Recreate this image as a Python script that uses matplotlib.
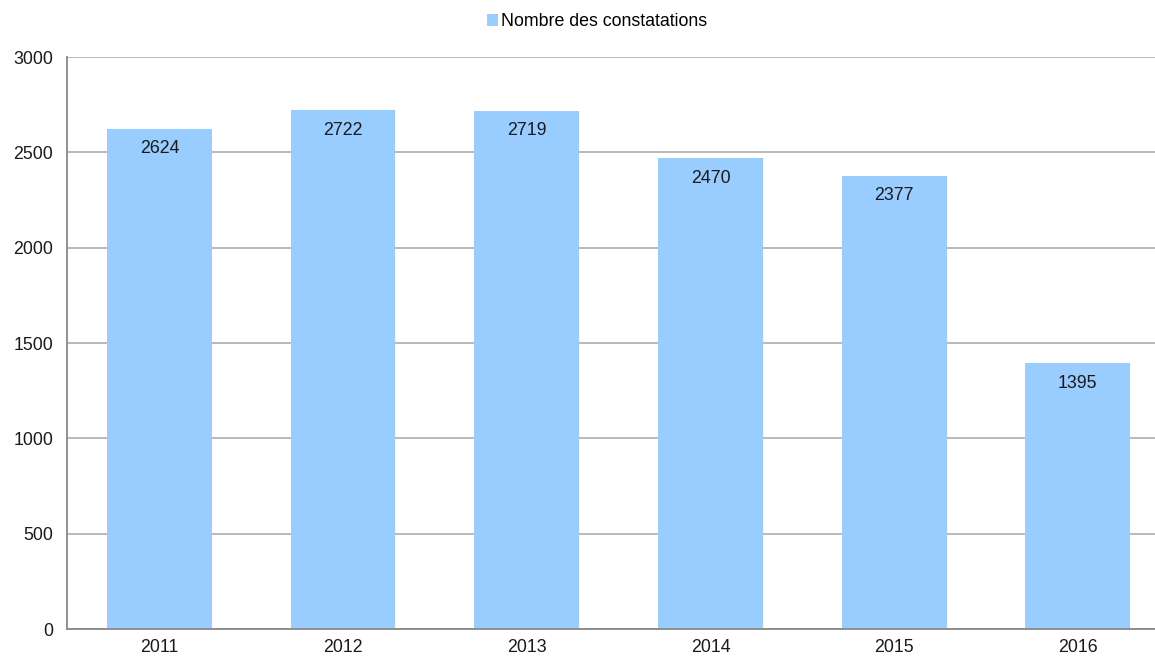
import matplotlib.pyplot as plt
from matplotlib.patches import Patch

years = ["2011", "2012", "2013", "2014", "2015", "2016"]
counts = [2624, 2722, 2719, 2470, 2377, 1395]
yticks = [0, 500, 1000, 1500, 2000, 2500, 3000]

plt.rcParams["font.family"] = ["Liberation Sans", "DejaVu Sans"]

fig = plt.figure(figsize=(11.55, 6.56), dpi=100)
ax = fig.add_axes([67 / 1155, 27 / 656, 1 - 67 / 1155, (629 - 57) / 656])

bar_color = "#99ccff"
x = range(len(years))
bars = ax.bar(x, counts, width=0.57, color=bar_color, zorder=2)

for rect, v in zip(bars, counts):
    ax.annotate(str(v), (rect.get_x() + rect.get_width() / 2, v),
                xytext=(0, -14.5), textcoords="offset points",
                ha="center", va="center", fontsize=12.8, color="#1a1a1a")

ax.set_xlim(-0.503, 5.42)
ax.set_ylim(0, 3000)
ax.set_yticks(yticks)
ax.set_xticks(list(x))
ax.set_xticklabels(years)
ax.tick_params(axis="both", length=0, labelsize=12.8, colors="#1a1a1a")
ax.tick_params(axis="y", pad=10)
ax.tick_params(axis="x", pad=7.5)

ax.yaxis.grid(True, color="#b3b3b3", linewidth=1.3, zorder=0)
ax.set_axisbelow(True)
for side in ["top", "right"]:
    ax.spines[side].set_visible(False)
for side in ["left", "bottom"]:
    ax.spines[side].set_color("#888888")
    ax.spines[side].set_linewidth(1.3)

handle = Patch(facecolor=bar_color, edgecolor="none", label="Nombre des constatations")
fig.legend(handles=[handle], loc="center", bbox_to_anchor=(597 / 1155, 1 - 22 / 656),
           frameon=False, fontsize=12.8, handlelength=0.65, handleheight=0.65,
           handletextpad=0.15)

fig.savefig("out.png", dpi=100)
